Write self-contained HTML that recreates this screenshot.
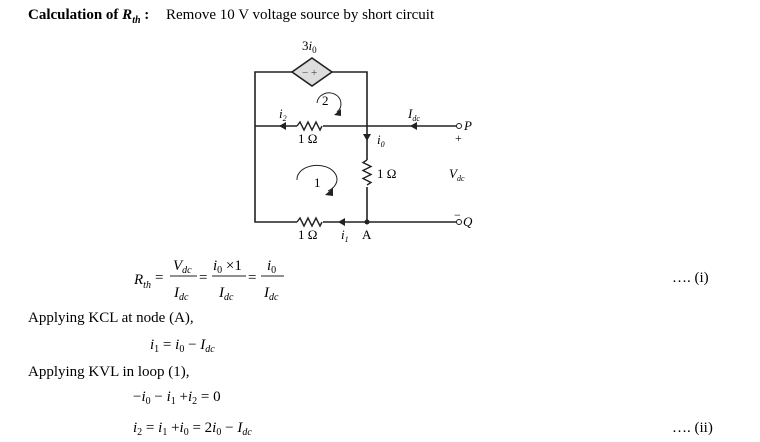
<!DOCTYPE html>
<html><head><style>
body{margin:0;background:#fff;}
svg{display:block;font-family:"Liberation Serif",serif;}
.it{font-style:italic}
</style></head><body>
<svg width="760" height="442" viewBox="0 0 760 442" xmlns="http://www.w3.org/2000/svg">
<text x="28" y="19" font-size="15" font-weight="bold">Calculation of <tspan class="it">R</tspan><tspan class="it" font-size="10" dy="4">th</tspan><tspan dy="-4"> :</tspan></text>
<text x="166" y="19" font-size="15">Remove 10 V voltage source by short circuit</text>

<g stroke="#222" stroke-width="1.6" fill="none">
<path d="M292 72 H255 V222 H297 M323 222 H457"/>
<path d="M332 72 H367 V160 M367 187 V222"/>
<path d="M255 126 H297 M323 126 H457"/>
<path d="M297 126 l3 -4 l4 8 l4 -8 l4 8 l4 -8 l4 8 l2 -4" stroke-width="1.4"/>
<path d="M297 222 l3 -4 l4 8 l4 -8 l4 8 l4 -8 l4 8 l2 -4" stroke-width="1.4"/>
<path d="M367 160 l-4 2.5 l8 4 l-8 4 l8 4 l-8 4 l8 4 l-4 2.5" stroke-width="1.4"/>
<path d="M317 103 a12 11 0 1 1 20 9" stroke-width="1"/>
<path d="M297 180 a20 14 0 1 1 31 11" stroke-width="1"/>
</g>
<polygon points="312,58 332,72 312,86 292,72" fill="#ddd" stroke="#222" stroke-width="1.6"/>
<text x="302" y="76" font-size="11" fill="#444">− +</text>
<g fill="#222">
<polygon points="279,126 286,122 286,130"/>
<polygon points="410,126 417,122 417,130"/>
<polygon points="367,141 363,134 371,134"/>
<polygon points="338,222 345,218 345,226"/>
<polygon points="334,115 341,109 341,116"/>
<polygon points="325,195 333,188 333,196"/>
<circle cx="367" cy="222" r="2.5"/>
</g>
<circle cx="459" cy="126" r="2.5" fill="#fff" stroke="#222"/>
<circle cx="459" cy="222" r="2.5" fill="#fff" stroke="#222"/>
<g font-size="13">
<text x="302" y="50">3<tspan class="it">i</tspan><tspan font-size="9" dy="3">0</tspan></text>
<text x="322" y="105">2</text>
<text x="314" y="187">1</text>
<text class="it" x="279" y="118">i<tspan font-size="8" dy="3">2</tspan></text>
<text x="298" y="143">1 Ω</text>
<text class="it" x="377" y="144">i<tspan font-size="8" dy="3">0</tspan></text>
<text x="377" y="178">1 Ω</text>
<text class="it" x="408" y="118">I<tspan font-size="8" dy="3">dc</tspan></text>
<text class="it" x="464" y="130">P</text>
<text x="455" y="142" font-size="12">+</text>
<text class="it" x="449" y="178">V<tspan font-size="8" dy="3">dc</tspan></text>
<text x="454" y="219" font-size="12">−</text>
<text class="it" x="463" y="226">Q</text>
<text x="298" y="239">1 Ω</text>
<text class="it" x="341" y="239">i<tspan font-size="8" dy="3">1</tspan></text>
<text x="362" y="239">A</text>
</g>

<g font-size="15">
<text class="it" x="134" y="284">R<tspan font-size="10" dy="4">th</tspan></text>
<text x="155" y="282">=</text>
<line x1="170" y1="276" x2="197" y2="276" stroke="#222"/>
<text class="it" x="173" y="270">V<tspan font-size="10" dy="3">dc</tspan></text>
<text class="it" x="174" y="297">I<tspan font-size="10" dy="3">dc</tspan></text>
<text x="199" y="282">=</text>
<line x1="212" y1="276" x2="246" y2="276" stroke="#222"/>
<text x="213" y="270"><tspan class="it">i</tspan><tspan font-size="10" dy="3">0</tspan><tspan dy="-3"> ×1</tspan></text>
<text class="it" x="219" y="297">I<tspan font-size="10" dy="3">dc</tspan></text>
<text x="248" y="282">=</text>
<line x1="261" y1="276" x2="284" y2="276" stroke="#222"/>
<text class="it" x="267" y="270">i<tspan font-size="10" dy="3" font-style="normal">0</tspan></text>
<text class="it" x="264" y="297">I<tspan font-size="10" dy="3">dc</tspan></text>
<text x="672" y="282">…. (i)</text>

<text x="28" y="322">Applying KCL at node (A),</text>
<text x="150" y="349"><tspan class="it">i</tspan><tspan font-size="10" dy="3">1</tspan><tspan dy="-3"> = </tspan><tspan class="it">i</tspan><tspan font-size="10" dy="3">0</tspan><tspan dy="-3"> − </tspan><tspan class="it">I</tspan><tspan class="it" font-size="10" dy="3">dc</tspan></text>
<text x="28" y="376">Applying KVL in loop (1),</text>
<text x="133" y="401">−<tspan class="it">i</tspan><tspan font-size="10" dy="3">0</tspan><tspan dy="-3"> − </tspan><tspan class="it">i</tspan><tspan font-size="10" dy="3">1</tspan><tspan dy="-3"> +</tspan><tspan class="it">i</tspan><tspan font-size="10" dy="3">2</tspan><tspan dy="-3"> = 0</tspan></text>
<text x="133" y="432"><tspan class="it">i</tspan><tspan font-size="10" dy="3">2</tspan><tspan dy="-3"> = </tspan><tspan class="it">i</tspan><tspan font-size="10" dy="3">1</tspan><tspan dy="-3"> +</tspan><tspan class="it">i</tspan><tspan font-size="10" dy="3">0</tspan><tspan dy="-3"> = 2</tspan><tspan class="it">i</tspan><tspan font-size="10" dy="3">0</tspan><tspan dy="-3"> − </tspan><tspan class="it">I</tspan><tspan class="it" font-size="10" dy="3">dc</tspan></text>
<text x="672" y="432">…. (ii)</text>
</g>
</svg>
</body></html>
